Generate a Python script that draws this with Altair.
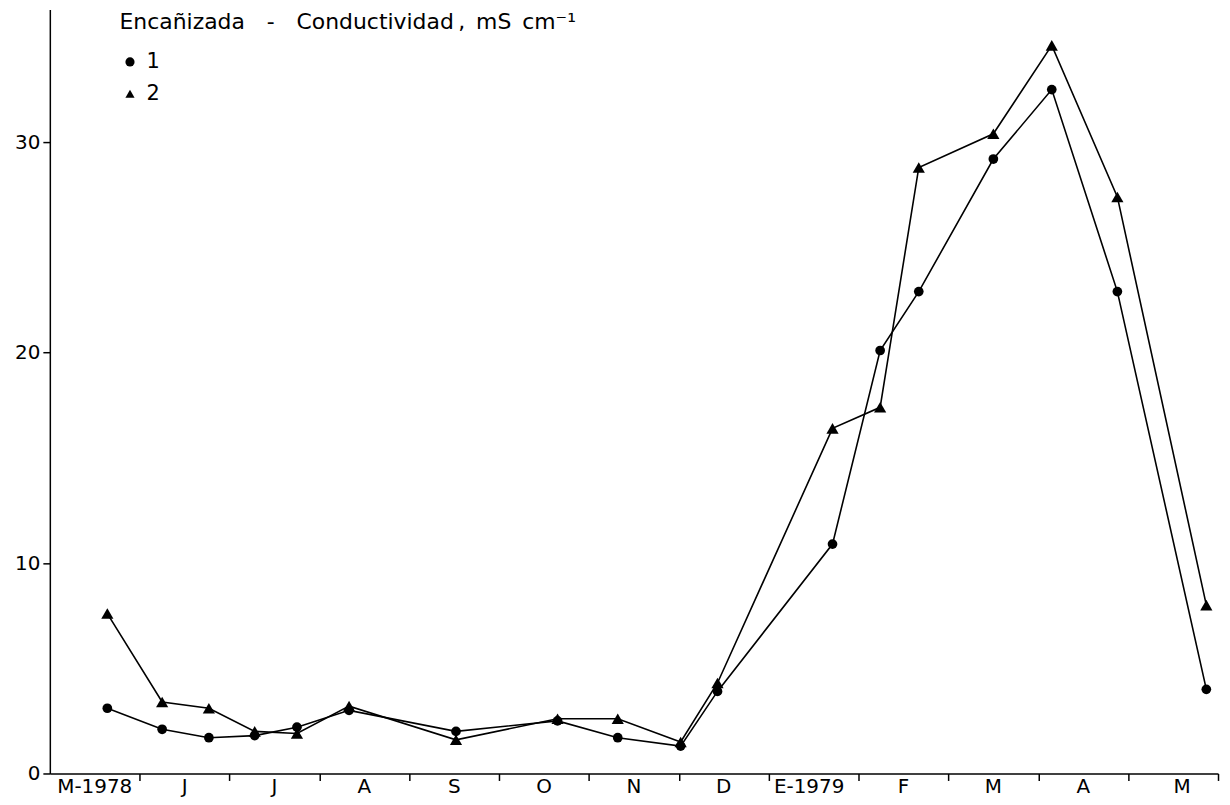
import altair as alt
import pandas as pd

# sampling positions, in months counted from 1 May 1978
month_pos = [0.64, 1.25, 1.77, 2.28, 2.75, 3.33, 4.52, 5.65, 6.32, 7.02,
             7.43, 8.71, 9.24, 9.67, 10.50, 11.15, 11.88, 12.87]
# series 1 (circles) and 2 (triangles), conductivity mS cm-1
cond_1 = [3.1, 2.1, 1.7, 1.8, 2.2, 3.0, 2.0, 2.5, 1.7, 1.3,
          3.9, 10.9, 20.1, 22.9, 29.2, 32.5, 22.9, 4.0]
cond_2 = [7.6, 3.4, 3.1, 2.0, 1.9, 3.2, 1.6, 2.6, 2.6, 1.5,
          4.3, 16.4, 17.4, 28.8, 30.4, 34.6, 27.4, 8.0]
series_names = ["1", "2"]
month_labels = ["M-1978", "J", "J", "A", "S", "O", "N", "D",
                "E-1979", "F", "M", "A", "M"]
month_label_pos = [0.5, 1.5, 2.5, 3.5, 4.5, 5.5, 6.5, 7.5,
                   8.45, 9.5, 10.5, 11.5, 12.6]
month_bounds = [1, 2, 3, 4, 5, 6, 7, 8, 9, 10, 11, 12, 13]
y_ticks = [0, 10, 20, 30]
legend_title = "Encañizada\u2003-\u2003Conductividad\u2009,\u2002mS\u2002cm⁻¹"

rows = []
for m, a, b in zip(month_pos, cond_1, cond_2):
    rows.append({"mes": m, "serie": series_names[0], "cond": a})
    rows.append({"mes": m, "serie": series_names[1], "cond": b})
df = pd.DataFrame(rows)
lab_df = pd.DataFrame({"mes": month_label_pos, "label": month_labels})

W, H = 1173, 767
FONT = "DejaVu Sans, sans-serif"

x = alt.X("mes:Q",
          scale=alt.Scale(domain=[0, 13], nice=False, zero=False),
          axis=alt.Axis(values=month_bounds, labels=False, ticks=True,
                        tickSize=7, tickWidth=1.5, domainWidth=1.5,
                        domainColor="black", tickColor="black",
                        grid=False, title=None))
y = alt.Y("cond:Q",
          scale=alt.Scale(domain=[0, 36.3], nice=False),
          axis=alt.Axis(values=y_ticks, grid=False, title=None,
                        labelFontSize=20, labelFont=FONT, labelColor="black",
                        tickSize=7, tickWidth=1.5, domainWidth=1.5,
                        domainColor="black", tickColor="black",
                        labelPadding=3))

shape = alt.Shape("serie:N",
                  scale=alt.Scale(domain=series_names,
                                  range=["circle", "triangle-up"]),
                  legend=alt.Legend(
                      title=legend_title, orient="none",
                      legendX=70, legendY=2,
                      titleFontSize=22, titleFont=FONT,
                      titleFontWeight="normal", titleColor="black",
                      titleLimit=900, titlePadding=18,
                      labelFontSize=21, labelFont=FONT, labelColor="black",
                      labelOffset=6, symbolOffset=0,
                      symbolFillColor="black", symbolStrokeColor="black",
                      symbolSize=85, rowPadding=10))

lines = alt.Chart(df).mark_line(color="black", strokeWidth=1.6).encode(
    x=x, y=y, detail="serie:N", order="mes:Q")

circles = alt.Chart(df).transform_filter(
    alt.datum.serie == series_names[0]
).mark_point(filled=True, color="black", opacity=1, size=95).encode(
    x=x, y=y, shape=shape)

triangles = alt.Chart(df).transform_filter(
    alt.datum.serie == series_names[1]
).mark_point(filled=True, color="black", opacity=1, size=150).encode(
    x=x, y=y, shape=shape)

labels = alt.Chart(lab_df).mark_text(fontSize=20, font=FONT, baseline="top",
                                     color="black").encode(
    x=x, y=alt.value(H + 4), text="label:N")

chart = alt.layer(lines, circles, triangles, labels).properties(
    width=W, height=H,
    autosize=alt.AutoSizeParams(type="none"),
    padding={"left": 42, "top": 0, "right": 4, "bottom": 26},
    background="white",
).configure_view(stroke=None)

chart.save("out.html", embed_options={"renderer": "svg", "actions": False})
